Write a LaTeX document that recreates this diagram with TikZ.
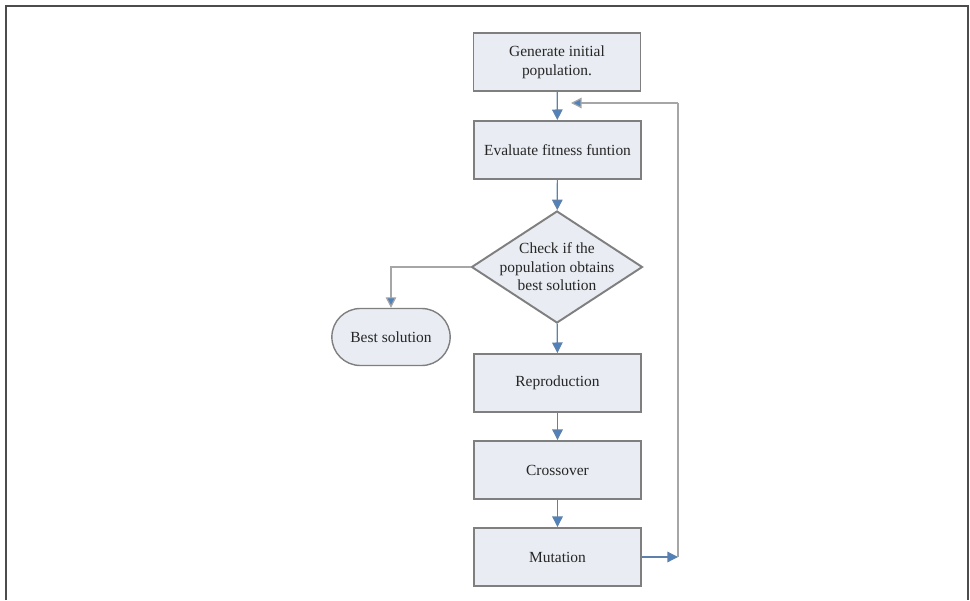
\documentclass[tikz,border=0pt]{standalone}
\usepackage{fontspec}
\setmainfont{Liberation Serif}
\usepackage{tikz}
\usetikzlibrary{shapes,shapes.geometric,shapes.misc}
\usetikzlibrary{arrows.meta,calc,positioning}

\definecolor{boxfill}{HTML}{E9EDF3}
\definecolor{boxline}{HTML}{7F7F7F}
\definecolor{flowblue}{HTML}{4F81BD}
\newcommand{\boxfont}{\fontsize{8.8}{10.6}\selectfont}

\begin{document}
\begin{tikzpicture}[
    stepbox/.style={draw=boxline, fill=boxfill, line width=1.1pt, minimum width=3.34cm,
                    minimum height=1.16cm, align=center, font=\boxfont, text=black!85},
    testbox/.style={draw=boxline, fill=boxfill, line width=1.1pt, diamond, aspect=1.53,
                    inner sep=-3pt, minimum width=3.42cm, minimum height=2.24cm, align=center,
                    font=\boxfont, text=black!85},
    endbox/.style={draw=boxline, fill=boxfill, line width=0.8pt, rounded rectangle,
                   minimum width=2.6cm, minimum height=1.14cm, font=\boxfont, text=black!85},
    flow/.style={draw=flowblue!70!gray, line width=0.7pt,
                 -{Triangle[width=6pt,length=6pt,fill=flowblue]}},
    loop/.style={draw=black!35, line width=0.7pt}
  ]
            \useasboundingbox (0,0) rectangle (19.4,12);
            % Outer frame, open at the bottom
            \draw[line width=1.3pt, black!70] (0.12,0) -- (0.12,11.88) -- (19.36,11.88) -- (19.36,0);
            % Main column of steps
            \node[stepbox] (init) at (11.14,10.76) {Generate initial\\ population.};
            \node[stepbox] (fit) at (11.15,9.0) {Evaluate fitness funtion};
            \node[testbox] (check) at (11.14,6.66) {Check if the\\ population obtains\\ best solution};
            \node[stepbox] (repro) at (11.15,4.34) {Reproduction};
            \node[stepbox] (cross) at (11.15,2.6) {Crossover};
            \node[stepbox] (mut) at (11.15,0.86) {Mutation};
            % Terminal on the left branch
            \node[endbox] (best) at (7.82,5.26) {Best solution};
            \draw[flow] (init) -- (fit);
            \draw[flow] (fit) -- (check);
            \draw[flow] (check) -- (repro);
            \draw[flow] (repro) -- (cross);
            \draw[flow] (cross) -- (mut);
            \draw[flow, draw=black!35] (check.west) -| (best.north);
            % Loop back from mutation to the fitness step
            \coordinate (loopbot) at (13.56,0.86);
            \coordinate (looptop) at (13.56,9.94);
            \coordinate (loopend) at (11.42,9.94);
            \draw[flow] (mut.east) -- (loopbot);
            \draw[loop] (loopbot) -- (looptop);
            \draw[flow, draw=black!35] (looptop) -- (loopend);
          \end{tikzpicture}
\end{document}
